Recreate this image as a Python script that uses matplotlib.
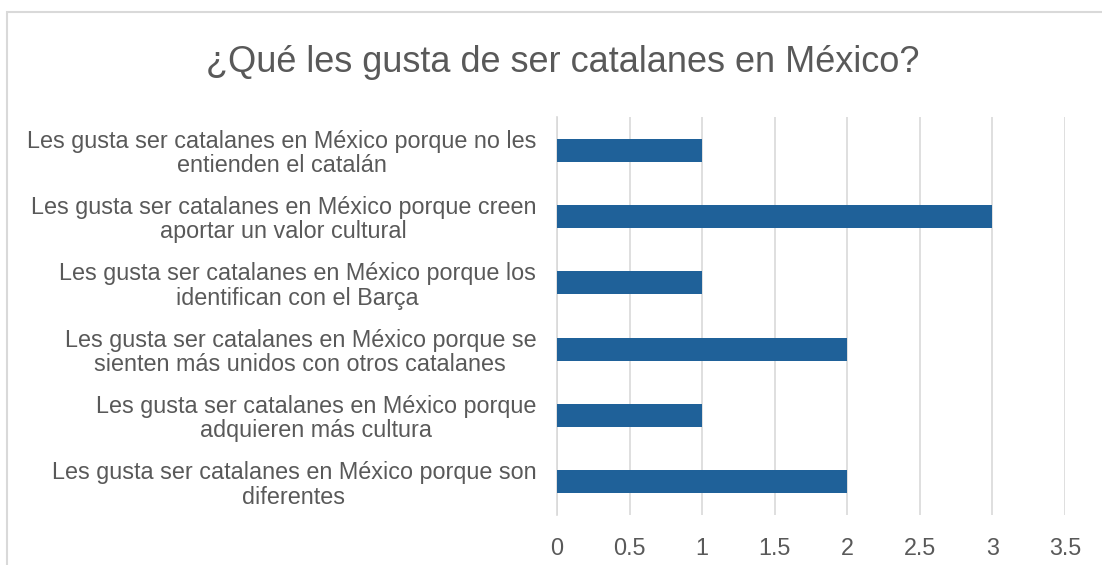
import matplotlib.pyplot as plt
from matplotlib.patches import Rectangle

# datos del gráfico (de arriba hacia abajo)
categorias = [
    "Les gusta ser catalanes en México porque no les\nentienden el catalán",
    "Les gusta ser catalanes en México porque creen\naportar un valor cultural",
    "Les gusta ser catalanes en México porque los\nidentifican con el Barça",
    "Les gusta ser catalanes en México porque se\nsienten más unidos con otros catalanes",
    "Les gusta ser catalanes en México porque\nadquieren más cultura",
    "Les gusta ser catalanes en México porque son\ndiferentes",
]
valores = [1, 3, 1, 2, 1, 2]
ticks_x = [0, 0.5, 1, 1.5, 2, 2.5, 3, 3.5]
etiquetas_x = ["0", "0.5", "1", "1.5", "2", "2.5", "3", "3.5"]
titulo = "¿Qué les gusta de ser catalanes en México?"

plt.rcParams['font.family'] = ['Liberation Sans', 'DejaVu Sans']
gris_texto = '#595959'
gris_linea = '#D9D9D9'

W, H = 1102, 565
fig = plt.figure(figsize=(W / 100, H / 100), dpi=100)

# marco del área del gráfico
fig.patches.append(Rectangle((7 / W, -0.05), 1.2, 1 - 12 / H + 0.05,
                             transform=fig.transFigure, fill=False,
                             edgecolor=gris_linea, linewidth=1.5))

ax = fig.add_axes([557 / W, 1 - 515 / H, (1065 - 557) / W, (515 - 117) / H])

pos = list(range(len(categorias)))
ax.barh(pos, valores, height=0.35, color='#1F6199', zorder=3)

ax.set_ylim(-0.5, len(categorias) - 0.5)
ax.invert_yaxis()
ax.set_xlim(0, 3.5)
ax.set_xticks(ticks_x)
ax.set_xticklabels(etiquetas_x)
ax.set_yticks(pos)
ax.set_yticklabels(categorias, multialignment='center', linespacing=1.08)

ax.tick_params(axis='both', length=0, labelsize=16.8, colors=gris_texto)
ax.tick_params(axis='y', pad=15)
ax.tick_params(axis='x', pad=16)

ax.grid(axis='x', color=gris_linea, linewidth=1.2, zorder=0)
for s in ['top', 'right', 'bottom']:
    ax.spines[s].set_visible(False)
ax.spines['left'].set_color(gris_linea)
ax.spines['left'].set_linewidth(1.2)

fig.text(563 / W, 1 - 63 / H, titulo, ha='center', va='center',
         fontsize=26, color=gris_texto)

fig.savefig('out.png', dpi=100)
